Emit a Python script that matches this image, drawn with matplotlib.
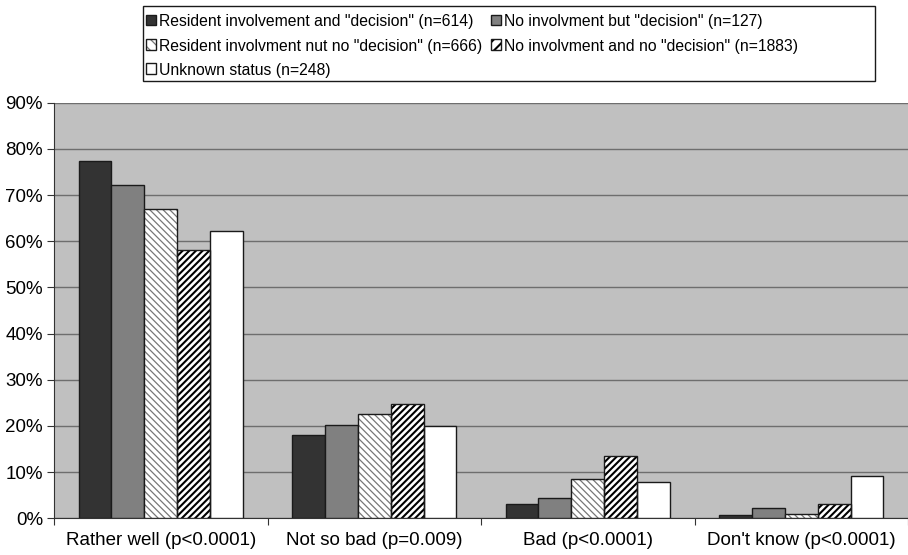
import matplotlib

matplotlib.use("Agg")
import matplotlib.pyplot as plt  # noqa: E402
import numpy as np
from matplotlib.patches import Rectangle

plt.rcParams["font.family"] = ["Liberation Sans", "DejaVu Sans"]

categories = [
    "Rather well (p<0.0001)",
    "Not so bad (p=0.009)",
    "Bad (p<0.0001)",
    "Don't know (p<0.0001)",
]
groups = [
    'Resident involvement and "decision" (n=614)',
    'No involvment but "decision" (n=127)',
    'Resident involvment nut no "decision" (n=666)',
    'No involvment and no "decision" (n=1883)',
    "Unknown status (n=248)",
]
# percent per group, one entry per category
inv_decision = [77.3, 18.0, 3.2, 0.7]
noinv_decision = [72.1, 20.3, 4.5, 2.2]
inv_nodecision = [66.9, 22.5, 8.5, 1.0]
noinv_nodecision = [58.0, 24.7, 13.4, 3.1]
unknown = [62.2, 19.9, 7.9, 9.1]
series = [inv_decision, noinv_decision, inv_nodecision, noinv_nodecision, unknown]

# fill, hatch, hatch colour, hatch line width per group
styles = [
    ("#333333", None, None, 0),
    ("#808080", None, None, 0),
    ("white", "\\" * 5, "#777777", 0.9),
    ("white", "/" * 5, "black", 1.5),
    ("white", None, None, 0),
]
EDGE = "#1a1a1a"
W, H = 908, 555

fig = plt.figure(figsize=(W / 100, H / 100), dpi=100)
ax = fig.add_axes([54 / W, 1 - 518.3 / H, 1 - 54 / W, (518.3 - 102.7) / H])
ax.set_facecolor("#c0c0c0")

x = np.arange(len(categories))
n = len(series)
width = 1 / (n + 1.5)

for i, (vals, (fill, hatch, hcol, hlw)) in enumerate(zip(series, styles)):
    pos = x - 0.5 + 0.75 * width + (i + 0.5) * width
    if hatch:
        with plt.rc_context({"hatch.linewidth": hlw}):
            ax.bar(pos, vals, width, color=fill, edgecolor=hcol, hatch=hatch,
                   linewidth=0, zorder=3)
        ax.bar(pos, vals, width, facecolor="none", edgecolor=EDGE,
               linewidth=1.0, zorder=4)
    else:
        ax.bar(pos, vals, width, color=fill, edgecolor=EDGE,
               linewidth=1.0, zorder=3)

ax.set_ylim(0, 90)
ax.set_xlim(-0.5, 3.455)
ax.set_yticks(np.arange(0, 91, 10))
ax.set_yticklabels([f"{v}%" for v in range(0, 91, 10)], fontsize=13.5)
ax.yaxis.grid(True, color="#6e6e6e", linewidth=1.0, zorder=1)
ax.set_axisbelow(True)

ax.set_xticks(np.arange(-0.5, 3.6, 1.0))
ax.set_xticklabels([])
ax.set_xticks(x, minor=True)
ax.set_xticklabels(categories, minor=True, fontsize=13.5)
ax.tick_params(axis="x", which="minor", length=0, pad=10)
ax.tick_params(axis="x", which="major", length=5, direction="out", color="#333333")
ax.tick_params(axis="y", length=5, direction="out", color="#333333", pad=3)

for side in ("top", "right"):
    ax.spines[side].set_visible(False)
for side in ("left", "bottom"):
    ax.spines[side].set_color("#333333")

# legend box drawn by hand in pixel units, entries read across rows
fig.add_artist(Rectangle((143 / W, 1 - 81 / H), (875 - 143) / W, 75 / H,
                         transform=fig.transFigure, facecolor="white",
                         edgecolor=EDGE, linewidth=1.0))
col_x = [146, 491]
row_y = [20, 44.5, 68.5]
box = 10
for k, (label, (fill, hatch, hcol, hlw)) in enumerate(zip(groups, styles)):
    px = col_x[k % 2]
    py = row_y[k // 2]
    with plt.rc_context({"hatch.linewidth": hlw or 1.0}):
        fig.add_artist(Rectangle((px / W, 1 - (py + box / 2) / H), box / W, box / H,
                                 transform=fig.transFigure, facecolor=fill,
                                 edgecolor=hcol if hatch else EDGE,
                                 hatch=hatch[:3] if hatch else None,
                                 linewidth=0 if hatch else 1.0))
    if hatch:
        fig.add_artist(Rectangle((px / W, 1 - (py + box / 2) / H), box / W, box / H,
                                 transform=fig.transFigure, facecolor="none",
                                 edgecolor=EDGE, linewidth=1.0))
    fig.text((px + box + 3) / W, 1 - py / H, label, fontsize=11.3,
             ha="left", va="center_baseline")

fig.savefig("out.png", dpi=100, facecolor="white")
